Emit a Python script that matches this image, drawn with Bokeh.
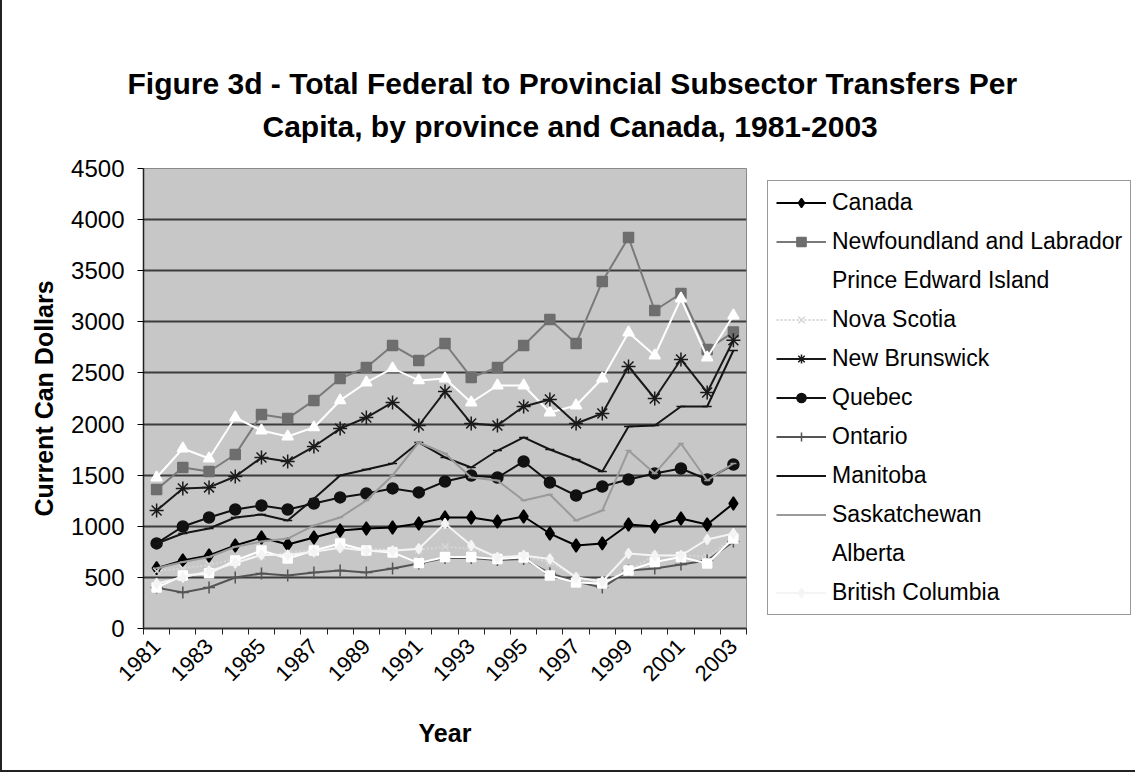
import math
from bokeh.plotting import figure
from bokeh.models import Range1d, FixedTicker, Legend, LegendItem, Title
from bokeh.embed import file_html
from bokeh.resources import INLINE

# ---------------- data ----------------
years = list(range(1981, 2004))

canada = [590, 665, 714, 812, 890, 822, 890, 959, 978, 988, 1027, 1086, 1086, 1047, 1096, 929, 812, 832, 1017, 998, 1076, 1017, 1223]
newfoundland = [1360, 1575, 1536, 1702, 2094, 2055, 2231, 2446, 2554, 2769, 2622, 2788, 2456, 2554, 2769, 3023, 2788, 3395, 3825, 3111, 3277, 2729, 2900]
pei = [1477, 1761, 1663, 2064, 1937, 1878, 1967, 2231, 2407, 2544, 2427, 2446, 2211, 2377, 2377, 2113, 2182, 2446, 2896, 2671, 3228, 2651, 3062]
nova_scotia = [560, 590, 620, 680, 710, 740, 770, 790, 780, 770, 770, 800, 780, 700, 700, 650, 500, 450, 560, 720, 720, 700, 880]
new_brunswick = [1154, 1370, 1380, 1487, 1673, 1634, 1780, 1956, 2064, 2211, 1986, 2319, 2006, 1986, 2172, 2240, 2006, 2103, 2563, 2250, 2632, 2309, 2820]
quebec = [832, 998, 1086, 1164, 1203, 1164, 1223, 1282, 1321, 1370, 1331, 1438, 1497, 1477, 1634, 1428, 1301, 1389, 1458, 1517, 1565, 1458, 1604]
ontario = [400, 352, 401, 499, 538, 518, 548, 567, 548, 587, 636, 690, 690, 670, 680, 540, 460, 400, 567, 587, 626, 665, 850]
manitoba = [832, 929, 978, 1086, 1115, 1057, 1270, 1497, 1556, 1614, 1820, 1673, 1575, 1741, 1869, 1751, 1653, 1536, 1976, 1986, 2172, 2172, 2720]
saskatchewan = [590, 650, 700, 800, 850, 880, 1008, 1086, 1252, 1497, 1820, 1712, 1477, 1448, 1252, 1311, 1057, 1154, 1741, 1517, 1810, 1448, 1614]
alberta = [400, 518, 540, 665, 763, 685, 763, 832, 763, 744, 640, 700, 700, 680, 695, 518, 450, 440, 567, 650, 700, 636, 880]
british_columbia = [440, 500, 560, 640, 720, 720, 750, 790, 760, 760, 780, 1027, 812, 695, 714, 680, 500, 460, 734, 714, 714, 871, 929]

names = ["Canada", "Newfoundland and Labrador", "Prince Edward Island", "Nova Scotia",
         "New Brunswick", "Quebec", "Ontario", "Manitoba", "Saskatchewan", "Alberta",
         "British Columbia"]
values = [canada, newfoundland, pei, nova_scotia, new_brunswick, quebec, ontario,
          manitoba, saskatchewan, alberta, british_columbia]

y_ticks = list(range(0, 4501, 500))

styles = [
    dict(color="black", marker="diamond", mfill="black", size=13, dash="solid", width=2),
    dict(color="#7a7a7a", marker="square", mfill="#6e6e6e", size=10, dash="solid", width=2),
    dict(color="white", marker="triangle", mfill="white", size=11, dash="solid", width=2),
    dict(color="#d6d6d6", marker="x", mfill="#d6d6d6", size=10, dash="2 2", width=2),
    dict(color="#1a1a1a", marker="asterisk", mfill="#1a1a1a", size=14, dash="solid", width=2),
    dict(color="#111111", marker="circle", mfill="#111111", size=11, dash="solid", width=2),
    dict(color="#555555", marker="cross", mfill="#555555", size=12, dash="solid", width=2),
    dict(color="#151515", marker="dash", mfill="#151515", size=9, dash="solid", width=2),
    dict(color="#9a9a9a", marker="dash", mfill="#9a9a9a", size=6, dash="solid", width=2),
    dict(color="white", marker="square", mfill="white", size=9, dash="solid", width=2),
    dict(color="#f4f4f4", marker="diamond", mfill="#f4f4f4", size=10, dash="solid", width=2),
]

# ---------------- layout ----------------
FL, FT, FW, FH = 143, 168, 603, 460
W, H = 1135, 772
N = len(years)
FONT = "Liberation Sans"

p = figure(frame_width=FW, frame_height=FH,
           min_border_left=FL, min_border_top=FT,
           min_border_right=W - FL - FW, min_border_bottom=H - FT - FH,
           x_range=Range1d(-0.5, N - 0.5), y_range=Range1d(0, 4500),
           output_backend="svg", toolbar_location=None,
           title="Figure 3d - Total Federal to Provincial Subsector Transfers Per")
p.styles = {"background-color": "white",
            "box-shadow": "inset 2px 0 0 0 #222, inset -2px 0 0 0 #222, inset 0 -2px 0 0 #222"}

p.title.text_font = FONT
p.title.text_font_size = "30px"
p.title.text_font_style = "bold"
p.title.text_color = "black"
p.title.align = "left"
p.title.offset = 127 - FL
try:
    p.title.standoff = -36
except ValueError:
    p.title.standoff = 0
p.add_layout(Title(text="Capita, by province and Canada, 1981-2003",
                   text_font=FONT, text_font_size="30px", text_font_style="bold",
                   text_color="black", align="left", offset=262 - FL, standoff=52), "above")

p.background_fill_color = "#c7c7c7"
p.border_fill_color = None
p.outline_line_color = "#8a8a8a"
p.outline_line_width = 1

p.xgrid.grid_line_color = None
p.ygrid.grid_line_color = "#3c3c3c"
p.ygrid.grid_line_width = 2
p.ygrid.ticker = FixedTicker(ticks=y_ticks)

yax = p.yaxis[0]
yax.ticker = FixedTicker(ticks=y_ticks)
yax.axis_line_color = "#222"
yax.axis_line_width = 1.5
yax.major_tick_out = 6
yax.major_tick_in = 0
yax.minor_tick_out = 0
yax.minor_tick_in = 0
yax.major_label_text_font = FONT
yax.major_label_text_font_size = "24px"
yax.major_label_text_color = "black"
yax.major_label_standoff = 13
yax.axis_label = "Current Can Dollars"
yax.axis_label_text_font = FONT
yax.axis_label_text_font_size = "25px"
yax.axis_label_text_font_style = "bold"
yax.axis_label_text_color = "black"
yax.axis_label_standoff = 10

xax = p.xaxis[0]
xax.ticker = FixedTicker(ticks=list(range(0, N, 2)),
                         minor_ticks=[i - 0.5 for i in range(N + 1)])
xax.major_label_overrides = {i: str(years[i]) for i in range(0, N, 2)}
xax.major_label_orientation = math.pi / 4
xax.axis_line_color = "#333"
xax.axis_line_width = 2
xax.major_tick_out = 0
xax.major_tick_in = 0
xax.minor_tick_out = 6
xax.minor_tick_in = 0
xax.minor_tick_line_color = "#222"
xax.major_label_text_font = FONT
xax.major_label_text_font_size = "22px"
xax.major_label_text_color = "black"
xax.major_label_standoff = 8
xax.axis_label = "Year"
xax.axis_label_text_font = FONT
xax.axis_label_text_font_size = "25px"
xax.axis_label_text_font_style = "bold"
xax.axis_label_text_color = "black"
xax.axis_label_standoff = 28

xs = list(range(N))
items = []
for name, vals, st in zip(names, values, styles):
    r1 = p.line(xs, vals, line_color=st["color"], line_width=st["width"], line_dash=st["dash"])
    r2 = p.scatter(xs, vals, marker=st["marker"], size=st["size"],
                   fill_color=st["mfill"], line_color=st["mfill"], line_width=1.5)
    items.append(LegendItem(label=name, renderers=[r1, r2]))

legend = Legend(items=items, location=(21, 13), margin=0, padding=8, spacing=12,
                label_height=23, glyph_height=23, glyph_width=50, label_standoff=6,
                label_text_font=FONT, label_text_font_size="23px", label_text_color="black",
                border_line_color="#333", border_line_width=1,
                background_fill_color="white", background_fill_alpha=1)
p.add_layout(legend, "right")

open("out.html", "w").write(file_html(p, INLINE))
